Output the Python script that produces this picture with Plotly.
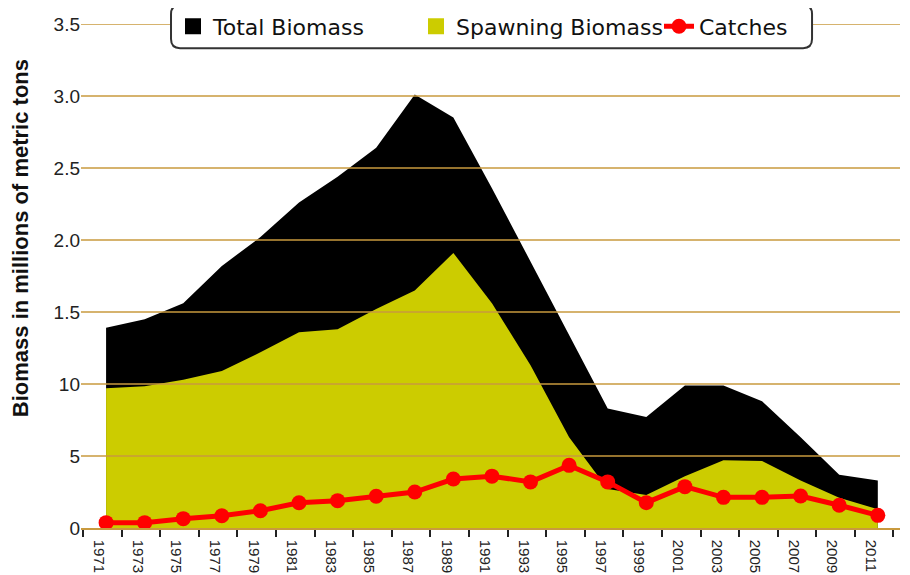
import plotly.graph_objects as go

# data (millions of metric tons)
years = list(range(1971, 2012, 2))
total_biomass = [1.39, 1.45, 1.56, 1.82, 2.02, 2.26, 2.44, 2.64, 3.01, 2.85, 2.36,
                 1.85, 1.35, 0.83, 0.77, 0.99, 0.99, 0.88, 0.63, 0.37, 0.33]
spawning_biomass = [0.97, 0.985, 1.03, 1.09, 1.22, 1.36, 1.38, 1.52, 1.65, 1.91, 1.56,
                    1.13, 0.63, 0.27, 0.23, 0.36, 0.47, 0.465, 0.33, 0.21, 0.13]
catches = [0.037, 0.037, 0.065, 0.085, 0.12, 0.175, 0.19, 0.22, 0.25, 0.34, 0.36,
           0.32, 0.435, 0.32, 0.176, 0.287, 0.213, 0.213, 0.222, 0.158, 0.088]

y_ticks = [0, 0.5, 1.0, 1.5, 2.0, 2.5, 3.0, 3.5]
y_tick_text = ['0', '5', '10', '1.5', '2.0', '2.5', '3.0', '3.5']

grid_color = '#C99A3E'
font_family = 'Liberation Sans, Arial, sans-serif'

# page body has an 8px margin, so the figure is drawn a bit smaller
W, H = 902, 567

fig = go.Figure()
fig.add_trace(go.Scatter(x=years, y=total_biomass, name='Total Biomass', mode='lines',
                         fill='tozeroy', fillcolor='#000000', line=dict(color='#000000', width=0),
                         showlegend=False))
fig.add_trace(go.Scatter(x=years, y=spawning_biomass, name='Spawning Biomass', mode='lines',
                         fill='tozeroy', fillcolor='#CCCC00', line=dict(color='#CCCC00', width=0),
                         showlegend=False))
# square swatches for the legend only
fig.add_trace(go.Scatter(x=[None], y=[None], name='Total Biomass', mode='markers',
                         marker=dict(symbol='square', color='#000000', size=20)))
fig.add_trace(go.Scatter(x=[None], y=[None], name='Spawning Biomass', mode='markers',
                         marker=dict(symbol='square', color='#CCCC00', size=20)))
fig.add_trace(go.Scatter(x=years, y=catches, name='Catches', mode='lines+markers',
                         line=dict(color='#FF0000', width=5),
                         marker=dict(color='#FF0000', size=15)))

# tick marks sit between the categories, labels just right of each mark
tick_pos = [y - 1.19 for y in years] + [years[-1] + 0.81]
tick_text = [str(y) for y in years] + ['']

fig.update_xaxes(range=[1969.7, 2012.15], tickmode='array', tickvals=tick_pos, ticktext=tick_text,
                 tickangle=90, ticklabelshift=16, ticks='outside', ticklen=7, tickwidth=1.5,
                 tickcolor='#222', showline=True, linecolor=grid_color, linewidth=1.5,
                 showgrid=False, zeroline=False, automargin=False,
                 tickfont=dict(family=font_family, size=15, color='#222'))
fig.update_yaxes(range=[0, 3.5], tickmode='array', tickvals=y_ticks, ticktext=y_tick_text,
                 showgrid=False, zeroline=False, showline=False, ticks='', automargin=False,
                 tickfont=dict(family=font_family, size=19, color='#222'))

# axis title sits above the middle of the axis in the original
fig.add_annotation(text='<b>Biomass in millions of metric tons</b>', textangle=-90,
                   xref='paper', yref='paper', x=-0.0745, y=0.575, showarrow=False,
                   xanchor='center', yanchor='middle',
                   font=dict(family=font_family, size=22, color='#111'))

# gridlines are drawn over the filled areas in the original
for v in y_ticks[1:]:
    fig.add_shape(type='line', xref='paper', yref='y', x0=0, x1=1, y0=v, y1=v,
                  line=dict(color=grid_color, width=1.5), layer='above')

# rounded legend box
x0, x1, y0, y1 = 0.1099, 0.8926, 0.952, 1.0377
rx, ry = 0.011, 0.018
path = (f'M {x0+rx},{y0} L {x1-rx},{y0} Q {x1},{y0} {x1},{y0+ry} '
        f'L {x1},{y1-ry} Q {x1},{y1} {x1-rx},{y1} L {x0+rx},{y1} '
        f'Q {x0},{y1} {x0},{y1-ry} L {x0},{y0+ry} Q {x0},{y0} {x0+rx},{y0} Z')
fig.add_shape(type='path', xref='paper', yref='paper', path=path,
              fillcolor='white', line=dict(color='#333', width=2), layer='above')

fig.update_layout(
    width=W, height=H,
    margin=dict(l=73, r=10, t=16, b=47, autoexpand=False),
    plot_bgcolor='white', paper_bgcolor='white',
    showlegend=True,
    legend=dict(orientation='h', xref='container', yref='container',
                x=165 / W, xanchor='left', y=1 - 18.5 / H, yanchor='middle',
                bgcolor='rgba(0,0,0,0)', borderwidth=0, itemwidth=30, entrywidth=198,
                font=dict(family='DejaVu Sans', size=22, color='#111')),
)

fig.write_html('out.html')
